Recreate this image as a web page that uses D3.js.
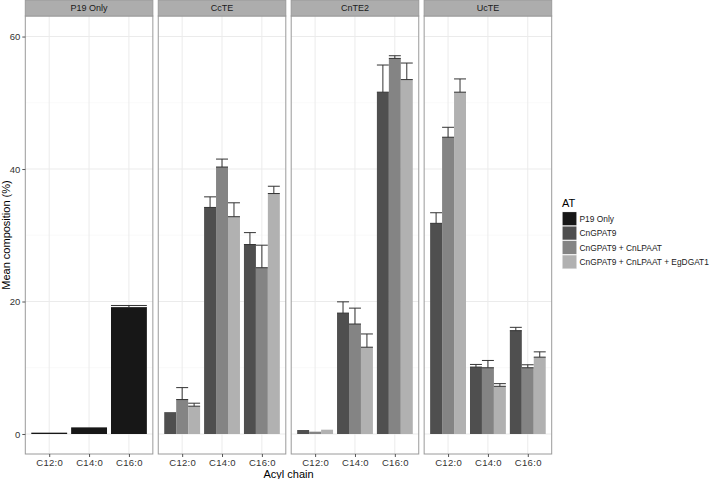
<!DOCTYPE html>
<html><head><meta charset="utf-8">
<script src="https://cdn.jsdelivr.net/npm/d3@7"></script>
<style>body{margin:0;background:#fff}svg{display:block}text{font-family:"Liberation Sans",Arial,sans-serif}</style>
</head><body><svg id="c" width="709" height="479"></svg>
<script>
const facets = ["P19 Only", "CcTE", "CnTE2", "UcTE"];
const chains = ["C12:0", "C14:0", "C16:0"];
const atLevels = ["P19 Only", "CnGPAT9", "CnGPAT9 + CnLPAAT", "CnGPAT9 + CnLPAAT + EgDGAT1"];
const yTicks = [0, 20, 40, 60];
const yMinor = [10, 30, 50];

// means per facet: rows = AT level present, cols = chains
const p19Mean = [[0.2, 1.0, 19.1]];
const p19Err  = [[null, null, 0.3]];
const ccteMean = [[3.3, 34.2, 28.6], [5.2, 40.3, 25.1], [4.2, 32.8, 36.3]];
const ccteErr  = [[null, 1.6, 1.8], [1.8, 1.2, 3.4], [0.45, 2.1, 1.1]];
const cnte2Mean = [[0.6, 18.25, 51.6], [0.35, 16.6, 56.7], [0.65, 13.1, 53.5]];
const cnte2Err  = [[null, 1.7, 4.1], [null, 2.4, 0.4], [null, 2.0, 2.5]];
const ucteMean = [[31.8, 10.1, 15.6], [44.8, 10.0, 10.0], [51.6, 7.2, 11.6]];
const ucteErr  = [[1.6, 0.4, 0.5], [1.5, 1.1, 0.45], [2.0, 0.4, 0.8]];

const facetAT = [["P19 Only"], atLevels.slice(1), atLevels.slice(1), atLevels.slice(1)];
const facetMeans = [p19Mean, ccteMean, cnte2Mean, ucteMean];
const facetErrs = [p19Err, ccteErr, cnte2Err, ucteErr];

const colors = ["#171717", "#4f4f4f", "#848484", "#b1b1b1"];
const fill = d3.scaleOrdinal().domain(atLevels).range(colors);

const svg = d3.select("#c");
const pLeft = 25.3, pRight = 551.7, gap = 5.4, pTop = 16, pBottom = 454, stripTop = 0;
const pw = (pRight - pLeft - gap * 3) / 4;
const y = d3.scaleLinear().domain([-3.02, 63.1]).range([pBottom, pTop]);

facets.forEach((f, fi) => {
  const x0 = pLeft + fi * (pw + gap);
  // ggplot discrete: 0.6 expansion each side -> unit = pw/3.2
  const unit = pw / 3.2;
  const x = d3.scalePoint().domain(chains).range([x0 + 0.6 * unit, x0 + 2.6 * unit]);
  const cx = c => x(c);
  const g = svg.append("g");
  g.append("rect").attr("x", x0).attr("y", pTop).attr("width", pw).attr("height", pBottom - pTop).attr("fill", "#fff");
  yMinor.forEach(v => g.append("line").attr("x1", x0).attr("x2", x0 + pw).attr("y1", y(v)).attr("y2", y(v)).attr("stroke", "#f5f5f5").attr("stroke-width", 0.6));
  yTicks.forEach(v => g.append("line").attr("x1", x0).attr("x2", x0 + pw).attr("y1", y(v)).attr("y2", y(v)).attr("stroke", "#ebebeb").attr("stroke-width", 1));
  chains.forEach(c => g.append("line").attr("x1", cx(c)).attr("x2", cx(c)).attr("y1", pTop).attr("y2", pBottom).attr("stroke", "#ebebeb").attr("stroke-width", 1));

  const ats = facetAT[fi];
  const n = ats.length;
  const bw = 0.9 * unit / n;
  ats.forEach((a, ai) => {
    chains.forEach((c, ci) => {
      const m = facetMeans[fi][ai][ci];
      const e = facetErrs[fi][ai][ci];
      const bx = cx(c) - 0.45 * unit + ai * bw;
      g.append("rect").attr("x", bx).attr("y", y(m)).attr("width", bw).attr("height", Math.max(0.8, y(0) - y(m))).attr("fill", fill(a));
      if (e !== null) {
        const eg = g.append("g").attr("stroke", "#333").attr("stroke-width", 1);
        eg.append("line").attr("x1", bx + bw / 2).attr("x2", bx + bw / 2).attr("y1", y(m)).attr("y2", y(m + e));
        eg.append("line").attr("x1", bx).attr("x2", bx + bw).attr("y1", y(m + e)).attr("y2", y(m + e));
        eg.append("line").attr("x1", bx).attr("x2", bx + bw).attr("y1", y(m)).attr("y2", y(m));
      }
    });
  });
  g.append("rect").attr("x", x0).attr("y", pTop).attr("width", pw).attr("height", pBottom - pTop).attr("fill", "none").attr("stroke", "#9a9a9a").attr("stroke-width", 1);
  // strip
  g.append("rect").attr("x", x0).attr("y", stripTop).attr("width", pw).attr("height", pTop - stripTop).attr("fill", "#adadad").attr("stroke", "#9a9a9a").attr("stroke-width", 1);
  g.append("text").attr("x", x0 + pw / 2).attr("y", (pTop + stripTop) / 2 + 3.3).attr("text-anchor", "middle").attr("font-size", 9).attr("fill", "#1a1a1a").text(f);
  // x axis
  const xa = d3.axisBottom(x).tickSize(3).tickPadding(2);
  const ax = g.append("g").attr("transform", `translate(0,${pBottom})`).call(xa);
  ax.select(".domain").remove();
  ax.selectAll("line").attr("stroke", "#555");
  ax.selectAll("text").attr("font-size", 9.5).attr("fill", "#333").attr("letter-spacing", 0.3).attr("font-family", "Liberation Sans, Arial, sans-serif");
});

// y axis
const ya = d3.axisLeft(y).tickValues(yTicks).tickSize(3).tickPadding(2);
const yg = svg.append("g").attr("transform", `translate(${pLeft},0)`).call(ya);
yg.select(".domain").remove();
yg.selectAll("line").attr("stroke", "#555");
yg.selectAll("text").attr("font-size", 9.5).attr("fill", "#333").attr("font-family", "Liberation Sans, Arial, sans-serif");

svg.append("text").attr("transform", `translate(10,${(pTop + pBottom) / 2}) rotate(-90)`).attr("text-anchor", "middle").attr("font-size", 11).attr("fill", "#000").text("Mean composition (%)");
svg.append("text").attr("x", (pLeft + pRight) / 2).attr("y", 478).attr("text-anchor", "middle").attr("font-size", 11).attr("fill", "#000").text("Acyl chain");

// legend
const lg = svg.append("g");
lg.append("text").attr("x", 562).attr("y", 206.5).attr("font-size", 11).attr("fill", "#000").text("AT");
atLevels.forEach((a, i) => {
  const ky = 211.5 + i * 14.4;
  lg.append("rect").attr("x", 562).attr("y", ky).attr("width", 15).attr("height", 14.4).attr("fill", "#f2f2f2");
  lg.append("rect").attr("x", 562.6).attr("y", ky + 0.6).attr("width", 13.8).attr("height", 13.2).attr("fill", fill(a));
  lg.append("text").attr("x", 579.5).attr("y", ky + 10.3).attr("font-size", 8.4).attr("fill", "#1a1a1a").text(a);
});
</script></body></html>
